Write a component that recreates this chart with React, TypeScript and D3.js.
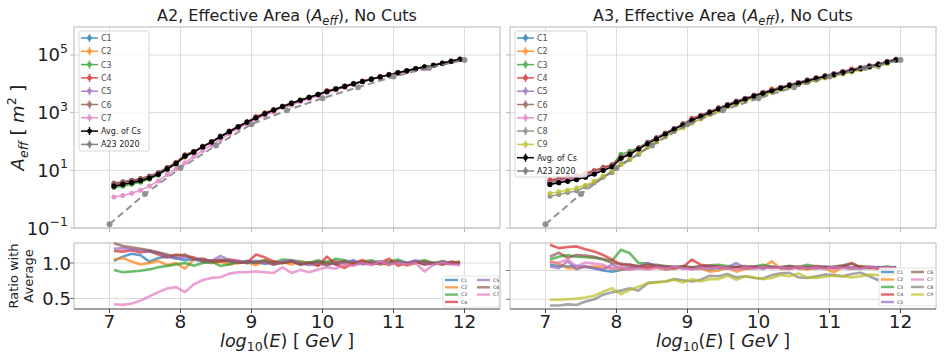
import * as d3 from 'd3';

const FONT = 'DejaVu Sans, Verdana, sans-serif';
const COLORS = ['#1f77b4', '#ff7f0e', '#2ca02c', '#d62728', '#9467bd', '#8c564b', '#e377c2', '#7f7f7f', '#bcbd22'];

// log10(E/GeV) bin centres
const BIN_CENTERS = [
  7.0625, 7.1875, 7.3125, 7.4375, 7.5625, 7.6875, 7.8125, 7.9375, 8.0625, 8.1875,
  8.3125, 8.4375, 8.5625, 8.6875, 8.8125, 8.9375, 9.0625, 9.1875, 9.3125, 9.4375,
  9.5625, 9.6875, 9.8125, 9.9375, 10.0625, 10.1875, 10.3125, 10.4375, 10.5625, 10.6875,
  10.8125, 10.9375, 11.0625, 11.1875, 11.3125, 11.4375, 11.5625, 11.6875, 11.8125, 11.9375,
];

// log10 of the averaged effective area [m^2]
const A2_AVG_LOG10 = [
  0.45, 0.51, 0.57, 0.64, 0.73, 0.86, 1.05, 1.23, 1.49, 1.63,
  1.81, 1.98, 2.16, 2.34, 2.51, 2.67, 2.82, 2.96, 3.09, 3.21,
  3.32, 3.43, 3.53, 3.63, 3.73, 3.82, 3.91, 4.0, 4.08, 4.16,
  4.24, 4.31, 4.38, 4.45, 4.52, 4.58, 4.64, 4.71, 4.78, 4.85,
];
const A3_AVG_LOG10 = [
  0.51, 0.57, 0.62, 0.68, 0.76, 0.87, 1.0, 1.12, 1.42, 1.55,
  1.74, 1.92, 2.09, 2.26, 2.42, 2.58, 2.73, 2.87, 3.0, 3.13,
  3.25, 3.36, 3.47, 3.57, 3.67, 3.76, 3.85, 3.94, 4.02, 4.1,
  4.18, 4.25, 4.32, 4.39, 4.46, 4.53, 4.6, 4.67, 4.75, 4.83,
];

// A23 2020 reference
const A23_E = [7, 7.5, 8, 8.5, 9, 9.5, 10, 10.5, 11, 11.5, 12];
const A23_LOG10 = [-0.87, 0.18, 1.08, 1.86, 2.6, 3.08, 3.5, 3.88, 4.25, 4.55, 4.83];

// ratio of each C to the average, A2
const A2_C1 = [1.03, 1.09, 1.13, 1.11, 1.02, 1.07, 1.09, 1.07, 1.04, 1.05, 1.02, 1.0, 1.04, 1.02, 1.0, 1.03, 1.01, 0.99, 1.02, 1.0, 1.03, 0.98, 1.01, 1.0, 1.02, 0.98, 1.01, 1.03, 0.99, 1.0, 1.02, 0.99, 1.01, 1.0, 1.02, 0.98, 1.0, 1.01, 0.99, 1.0];
const A2_C2 = [1.05, 1.07, 1.02, 0.98, 1.0, 1.03, 0.97, 1.0, 0.92, 1.05, 1.06, 1.0, 1.02, 0.98, 1.0, 1.01, 0.97, 1.03, 0.99, 1.01, 0.98, 1.02, 1.0, 0.97, 1.01, 1.03, 0.98, 1.0, 1.02, 0.99, 1.01, 0.97, 1.02, 0.96, 1.0, 1.02, 0.98, 1.03, 0.99, 1.01];
const A2_C3 = [0.9, 0.87, 0.88, 0.89, 0.91, 0.94, 0.96, 0.98, 1.0, 0.96, 1.0, 1.02, 0.96, 0.98, 1.02, 1.0, 1.02, 1.04, 1.0, 1.05, 1.04, 1.02, 1.0, 1.04, 1.0, 1.06, 1.04, 1.0, 1.02, 1.04, 1.0, 1.02, 1.05, 1.0, 1.02, 1.04, 1.0, 1.02, 1.0, 1.02];
const A2_C4 = [1.17, 1.16, 1.18, 1.15, 1.17, 1.12, 1.08, 1.12, 1.1, 1.08, 1.03, 1.04, 1.02, 1.05, 1.03, 1.0, 1.12, 1.08, 1.02, 1.0, 1.03, 0.98, 1.0, 0.96, 1.09, 0.98, 0.93, 1.0, 1.04, 0.98, 1.0, 1.06, 0.96, 1.0, 1.02, 0.98, 1.0, 0.98, 1.02, 1.0];
const A2_C5 = [1.2, 1.21, 1.19, 1.18, 1.16, 1.14, 1.1, 1.06, 1.08, 1.06, 1.05, 1.03, 1.1, 1.04, 1.02, 1.0, 1.03, 1.0, 0.98, 1.02, 1.04, 1.0, 0.97, 1.0, 0.96, 1.02, 1.0, 1.04, 0.98, 1.0, 1.02, 0.98, 1.02, 1.0, 1.04, 1.0, 0.98, 1.02, 1.0, 0.98];
const A2_C6 = [1.28, 1.24, 1.22, 1.2, 1.18, 1.15, 1.12, 1.1, 1.12, 1.05, 1.06, 1.02, 1.05, 1.03, 1.0, 1.02, 1.0, 1.03, 0.98, 1.0, 1.02, 0.98, 1.0, 1.02, 0.98, 1.0, 1.03, 0.98, 1.0, 1.02, 0.98, 1.0, 1.02, 0.98, 1.0, 1.02, 1.0, 0.98, 1.0, 1.0];
const A2_C7 = [0.42, 0.41, 0.43, 0.47, 0.53, 0.59, 0.64, 0.66, 0.59, 0.7, 0.76, 0.79, 0.8, 0.85, 0.87, 0.87, 0.88, 0.87, 0.86, 0.94, 0.86, 0.9, 0.87, 0.91, 0.94, 0.92, 0.98, 0.96, 1.0, 0.97, 1.02, 0.98, 1.0, 0.98, 1.0, 0.88, 0.98, 1.0, 0.98, 0.97];

// ratio of each C to the average, A3
const A3_C1 = [1.1, 1.08, 1.07, 1.08, 1.06, 1.04, 1.0, 0.98, 1.01, 1.03, 1.05, 1.04, 1.06, 1.02, 1.04, 1.05, 1.03, 1.04, 1.02, 1.05, 1.04, 1.06, 1.03, 1.05, 1.04, 1.07, 1.05, 1.04, 1.06, 1.03, 1.05, 1.04, 1.06, 1.05, 1.03, 1.05, 1.04, 1.06, 1.04, 1.05];
const A3_C2 = [1.16, 1.12, 1.04, 1.04, 1.06, 1.07, 1.06, 1.04, 1.02, 1.04, 1.06, 1.03, 1.05, 1.02, 1.04, 1.06, 1.03, 1.04, 0.98, 1.0, 1.05, 0.98, 1.03, 1.04, 1.06, 1.16, 1.03, 1.05, 1.04, 1.02, 1.05, 1.04, 0.97, 1.06, 1.03, 1.08, 1.05, 1.03, 1.06, 1.04];
const A3_C3 = [1.19, 1.24, 1.27, 1.24, 1.23, 1.22, 1.2, 1.17, 1.36, 1.3, 1.13, 1.12, 1.08, 1.07, 1.06, 1.08, 1.05, 1.07, 1.09, 1.1, 1.08, 1.06, 1.05, 1.07, 1.1, 1.06, 1.05, 1.08, 1.06, 1.1, 1.07, 1.05, 1.06, 1.08, 1.05, 1.07, 1.06, 1.05, 1.07, 1.05];
const A3_C4 = [1.45, 1.39, 1.41, 1.42, 1.37, 1.33, 1.27, 1.19, 1.1, 1.1, 1.07, 1.06, 1.07, 1.06, 1.04, 1.06, 1.19, 1.1, 1.08, 1.07, 1.04, 1.06, 1.05, 1.07, 1.04, 1.06, 1.05, 1.03, 1.07, 1.05, 1.08, 1.06, 1.04, 1.07, 1.13, 1.06, 1.05, 1.04, 1.02, 1.06];
const A3_C5 = [1.07, 1.04, 1.16, 1.02, 1.08, 1.04, 1.02, 1.1, 1.04, 1.07, 1.06, 1.13, 1.08, 1.05, 1.07, 1.04, 1.06, 1.05, 1.08, 1.04, 1.06, 1.13, 1.05, 1.07, 1.04, 1.06, 1.05, 1.07, 1.04, 1.06, 1.05, 1.07, 1.04, 1.06, 1.05, 1.04, 1.07, 1.05, 1.06, 1.04];
const A3_C6 = [1.24, 1.31, 1.22, 1.27, 1.26, 1.24, 1.19, 1.13, 1.12, 1.1, 1.08, 1.1, 1.1, 1.08, 1.06, 1.07, 1.05, 1.08, 1.06, 1.07, 1.05, 1.06, 1.08, 1.05, 1.07, 1.05, 1.06, 1.08, 1.05, 1.06, 1.04, 1.06, 1.07, 1.09, 1.12, 1.05, 1.06, 1.04, 1.05, 1.04];
const A3_C7 = [1.13, 1.14, 1.19, 1.07, 1.14, 1.12, 1.1, 1.02, 1.06, 1.01, 1.04, 1.02, 1.05, 1.03, 1.06, 1.04, 1.02, 1.05, 1.03, 1.06, 1.04, 1.02, 1.05, 1.03, 1.06, 1.04, 1.05, 1.03, 1.06, 1.04, 1.05, 1.03, 1.06, 1.04, 1.05, 1.03, 1.06, 1.04, 1.05, 1.04];
const A3_C8 = [0.39, 0.39, 0.41, 0.4, 0.46, 0.5, 0.58, 0.62, 0.65, 0.69, 0.65, 0.78, 0.8, 0.81, 0.85, 0.83, 0.81, 0.84, 0.91, 0.9, 0.94, 0.88, 0.9, 0.87, 0.86, 0.92, 0.95, 0.96, 0.88, 0.87, 0.9, 0.93, 0.92, 0.9, 0.94, 0.96, 0.9, 0.83, 0.92, 0.95];
const A3_C9 = [0.49, 0.49, 0.5, 0.51, 0.53, 0.56, 0.63, 0.69, 0.59, 0.66, 0.72, 0.78, 0.79, 0.81, 0.84, 0.79, 0.85, 0.81, 0.85, 0.85, 0.91, 0.84, 0.9, 0.88, 0.85, 0.87, 0.92, 0.9, 0.95, 0.88, 0.87, 0.89, 0.91, 0.9, 0.88, 0.9, 0.93, 0.92, 0.9, 0.95];

const X_TICKS = [7, 8, 9, 10, 11, 12];
const Y_TICKS_EXP = [-1, 1, 3, 5];
const RATIO_TICKS = [0.5, 1.0];

const A2_RATIOS = [A2_C1, A2_C2, A2_C3, A2_C4, A2_C5, A2_C6, A2_C7];
const A3_RATIOS = [A3_C1, A3_C2, A3_C3, A3_C4, A3_C5, A3_C6, A3_C7, A3_C8, A3_C9];

const GRID = '#dcdcdc';
const FRAME = '#b8b8b8';

type Pt = [number, number];

function Panel(props: {
  x0: number; x1: number; name: string; avg: number[]; ratios: number[][];
  ratioDomain: [number, number]; labels: boolean;
  leg: { x: number; y: number; w: number; h: number };
  rleg: { x: number; y: number; w: number; h: number; row: number; col: number; ncol1: number };
}) {
  const { x0, x1, name, avg, ratios, ratioDomain, labels, leg, rleg } = props;
  const x = d3.scaleLinear().domain([6.5, 12.5]).range([x0, x1]);
  const y = d3.scaleLog().domain([0.1, Math.pow(10, 5.97)]).range([228, 27]);
  const yr = d3.scaleLinear().domain(ratioDomain).range([309, 243]);
  const line = d3.line<Pt>().x(d => x(d[0])).y(d => y(d[1]));
  const rline = d3.line<Pt>().x(d => x(d[0])).y(d => yr(d[1]));
  const cx = (x0 + x1) / 2;

  const avgPts: Pt[] = BIN_CENTERS.map((e, i) => [e, Math.pow(10, avg[i])]);
  const seriesPts: Pt[][] = ratios.map(r => BIN_CENTERS.map((e, i) => [e, Math.pow(10, avg[i]) * r[i]] as Pt));
  const a23Pts: Pt[] = A23_E.map((e, i) => [e, Math.pow(10, A23_LOG10[i])]);

  const legItems = [
    ...ratios.map((_, i) => ({ label: `C${i + 1}`, color: COLORS[i], op: 0.8 })),
    { label: 'Avg. of Cs', color: '#000000', op: 1 },
    { label: 'A23 2020', color: '#808080', op: 1 },
  ];

  return (
    <g fontFamily={FONT}>
      {/* title */}
      <text x={cx} y={21} textAnchor="middle" fontSize={16} fill="#222">
        {name}, Effective Area (<tspan fontStyle="italic">A</tspan>
        <tspan fontStyle="italic" fontSize={11.5} dy={4}>eff</tspan>
        <tspan dy={-4}>), No Cuts</tspan>
      </text>

      {/* ---- top panel ---- */}
      <rect x={x0} y={27} width={x1 - x0} height={201} fill="#fff" />
      {X_TICKS.map(t => (
        <line key={'gx' + t} x1={x(t)} x2={x(t)} y1={27} y2={228} stroke={GRID} strokeWidth={1} />
      ))}
      {Y_TICKS_EXP.map(t => (
        <line key={'gy' + t} x1={x0} x2={x1} y1={y(Math.pow(10, t))} y2={y(Math.pow(10, t))} stroke={GRID} strokeWidth={1} />
      ))}
      <rect x={x0} y={27} width={x1 - x0} height={201} fill="none" stroke={FRAME} strokeWidth={1} />
      {X_TICKS.map(t => (
        <line key={'tx' + t} x1={x(t)} x2={x(t)} y1={228} y2={232} stroke={FRAME} />
      ))}
      {Y_TICKS_EXP.map(t => (
        <g key={'ty' + t}>
          <line x1={x0 - 4} x2={x0} y1={y(Math.pow(10, t))} y2={y(Math.pow(10, t))} stroke={FRAME} />
          {labels && (
            <text x={x0 - 6} y={y(Math.pow(10, t)) + 6.5} textAnchor="end" fontSize={18} fill="#222">
              10<tspan fontSize={12.5} dy={-8.5}>{t < 0 ? '\u2212' + Math.abs(t) : t}</tspan>
            </text>
          )}
        </g>
      ))}

      {seriesPts.map((pts, i) => (
        <g key={'s' + i} opacity={0.8}>
          <path d={line(pts) || ''} fill="none" stroke={COLORS[i]} strokeWidth={1.5} />
          {pts.map((p, j) => (
            <circle key={j} cx={x(p[0])} cy={y(p[1])} r={2.5} fill={COLORS[i]} />
          ))}
        </g>
      ))}
      <g>
        <path d={line(avgPts) || ''} fill="none" stroke="#000" strokeWidth={1.5} />
        {avgPts.map((p, j) => (
          <circle key={j} cx={x(p[0])} cy={y(p[1])} r={2.6} fill="#000" />
        ))}
      </g>
      <g opacity={0.85}>
        <path d={line(a23Pts) || ''} fill="none" stroke="#808080" strokeWidth={2} strokeDasharray="7,4" />
        {a23Pts.map((p, j) => (
          <circle key={j} cx={x(p[0])} cy={y(p[1])} r={3} fill="#808080" />
        ))}
      </g>

      {/* legend top */}
      <rect x={leg.x} y={leg.y} width={leg.w} height={leg.h} rx={2} fill="#fff" fillOpacity={0.8} stroke="#d6d6d6" />
      {legItems.map((it, i) => {
        const ly = leg.y + 7 + i * 13.3;
        return (
          <g key={'l' + i} opacity={it.op}>
            <line x1={leg.x + 2} x2={leg.x + 19} y1={ly} y2={ly} stroke={it.color} strokeWidth={1.5} />
            <line x1={leg.x + 10.5} x2={leg.x + 10.5} y1={ly - 4} y2={ly + 4} stroke={it.color} strokeWidth={1.5} />
            <circle cx={leg.x + 10.5} cy={ly} r={2.4} fill={it.color} />
            <text x={leg.x + 22} y={ly + 3} fontSize={8} fill="#222">{it.label}</text>
          </g>
        );
      })}

      {/* ---- ratio panel ---- */}
      <rect x={x0} y={243} width={x1 - x0} height={66} fill="#fff" />
      {X_TICKS.map(t => (
        <line key={'rgx' + t} x1={x(t)} x2={x(t)} y1={243} y2={309} stroke={GRID} strokeWidth={1} />
      ))}
      {RATIO_TICKS.map(t => (
        <line key={'rgy' + t} x1={x0} x2={x1} y1={yr(t)} y2={yr(t)} stroke={GRID} strokeWidth={1} />
      ))}
      <line x1={x0} x2={x1} y1={243} y2={243} stroke={FRAME} />
      <line x1={x0} x2={x0} y1={243} y2={309} stroke={FRAME} />
      <line x1={x1} x2={x1} y1={243} y2={309} stroke={FRAME} />
      <line x1={x0} x2={x1} y1={309} y2={309} stroke="#444" strokeWidth={1.2} />
      {ratios.map((r, i) => (
        <path key={'r' + i} d={rline(BIN_CENTERS.map((e, j) => [e, r[j]] as Pt)) || ''} fill="none"
          stroke={COLORS[i]} strokeWidth={2.6} strokeOpacity={0.7} strokeLinejoin="round" />
      ))}
      {RATIO_TICKS.map(t => (
        <g key={'rty' + t}>
          <line x1={x0 - 4} x2={x0} y1={yr(t)} y2={yr(t)} stroke="#777" />
          {labels && (
            <text x={x0 - 3} y={yr(t) + 6.5} textAnchor="end" fontSize={18} fill="#222">{t.toFixed(1)}</text>
          )}
        </g>
      ))}
      {X_TICKS.map(t => (
        <g key={'rtx' + t}>
          <line x1={x(t)} x2={x(t)} y1={309} y2={313} stroke="#444" />
          <text x={x(t)} y={327.5} textAnchor="middle" fontSize={18.5} fill="#222">{t}</text>
        </g>
      ))}

      {/* legend ratio */}
      <rect x={rleg.x} y={rleg.y} width={rleg.w} height={rleg.h} rx={1.5} fill="#fff" fillOpacity={0.85} stroke="#dcdcdc" strokeWidth={0.8} />
      {ratios.map((_, i) => {
        const col = i < rleg.ncol1 ? 0 : 1;
        const row = col === 0 ? i : i - rleg.ncol1;
        const lx = rleg.x + 2 + col * rleg.col;
        const ly = rleg.y + 4 + row * rleg.row;
        return (
          <g key={'rl' + i}>
            <line x1={lx} x2={lx + 13} y1={ly} y2={ly} stroke={COLORS[i]} strokeWidth={2.4} strokeOpacity={0.7} />
            <text x={lx + 16} y={ly + 1.7} fontSize={4.6} fill="#333">{`C${i + 1}`}</text>
          </g>
        );
      })}

      {/* x label */}
      <text x={cx} y={347} textAnchor="middle" fontSize={17.5} fill="#222">
        <tspan fontStyle="italic">log</tspan>
        <tspan fontSize={12.5} dy={4}>10</tspan>
        <tspan dy={-4}>(</tspan><tspan fontStyle="italic">E</tspan><tspan>) [ </tspan>
        <tspan fontStyle="italic">GeV</tspan><tspan> ]</tspan>
      </text>
    </g>
  );
}

export default function App() {
  return (
    <div style={{ position: 'absolute', left: 0, top: 0, width: 948, height: 361, background: '#fff' }}>
      <svg width={948} height={361} viewBox="0 0 948 361">
        <rect width={948} height={361} fill="#fff" />
        {/* y labels */}
        <text transform="translate(24,127.5) rotate(-90)" textAnchor="middle" fontSize={18} fontFamily={FONT} fill="#222">
          <tspan fontStyle="italic">A</tspan>
          <tspan fontStyle="italic" fontSize={12.5} dy={4}>eff</tspan>
          <tspan dy={-4}> [ </tspan>
          <tspan fontStyle="italic">m</tspan>
          <tspan fontSize={12.5} dy={-8}>2</tspan>
          <tspan dy={8}> ]</tspan>
        </text>
        <text transform="translate(18,276) rotate(-90)" textAnchor="middle" fontSize={13} fontFamily={FONT} fill="#222">Ratio with</text>
        <text transform="translate(33,276) rotate(-90)" textAnchor="middle" fontSize={13} fontFamily={FONT} fill="#222">Average</text>

        <Panel x0={74} x1={500} name="A2" avg={A2_AVG_LOG10} ratios={A2_RATIOS} ratioDomain={[0.352, 1.282]} labels
          leg={{ x: 79, y: 31, w: 70, h: 120 }}
          rleg={{ x: 443, y: 276, w: 56, h: 31, row: 7.3, col: 32, ncol1: 4 }} />
        <Panel x0={510} x1={936} name="A3" avg={A3_AVG_LOG10} ratios={A3_RATIOS} ratioDomain={[0.33, 1.479]} labels={false}
          leg={{ x: 515, y: 31, w: 72, h: 146 }}
          rleg={{ x: 879, y: 268, w: 57, h: 38, row: 7.5, col: 30, ncol1: 5 }} />
      </svg>
    </div>
  );
}
